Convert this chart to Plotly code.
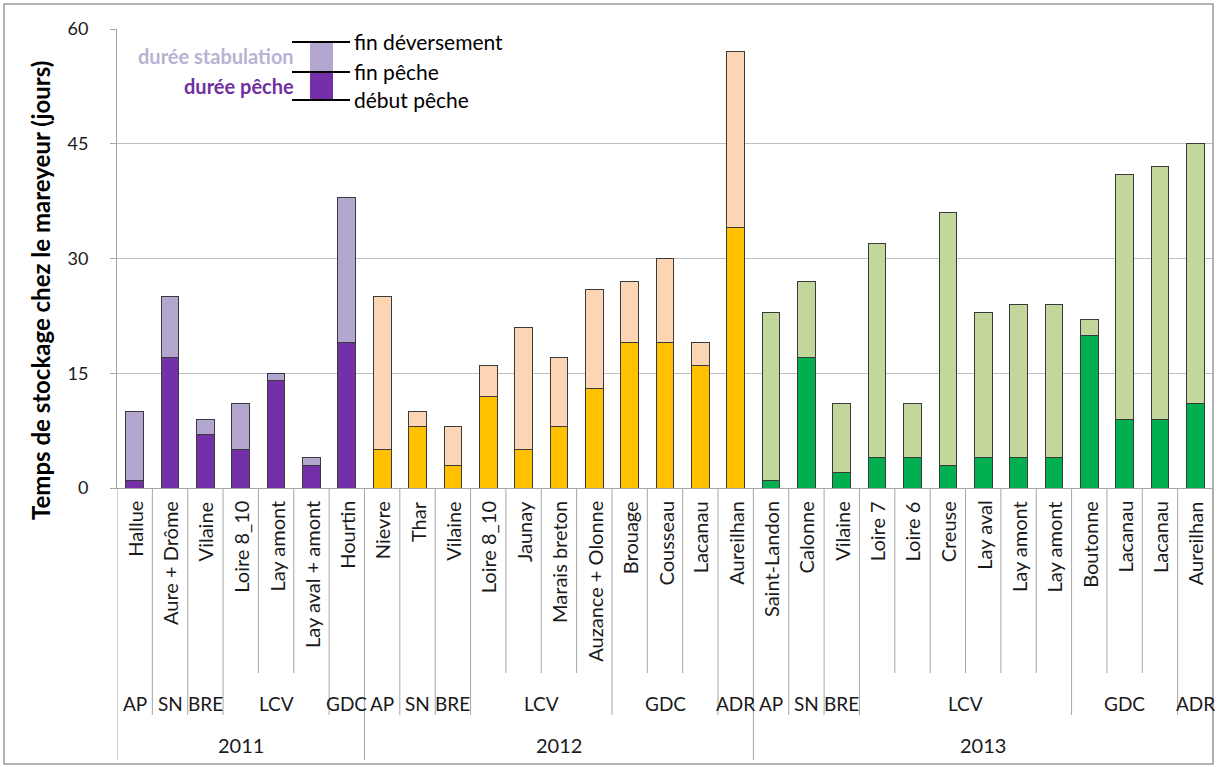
import plotly.graph_objects as go

# ---------------- data ----------------
noms = ["Hallue", "Aure + Drôme", "Vilaine", "Loire 8_10", "Lay amont", "Lay aval + amont", "Hourtin",
        "Nievre", "Thar", "Vilaine", "Loire 8_10", "Jaunay", "Marais breton", "Auzance + Olonne",
        "Brouage", "Cousseau", "Lacanau", "Aureilhan",
        "Saint-Landon", "Calonne", "Vilaine", "Loire 7", "Loire 6", "Creuse", "Lay aval", "Lay amont",
        "Lay amont", "Boutonne", "Lacanau", "Lacanau", "Aureilhan"]
filieres = ["AP", "SN", "BRE", "LCV", "LCV", "LCV", "GDC",
            "AP", "SN", "BRE", "LCV", "LCV", "LCV", "LCV", "GDC", "GDC", "GDC", "ADR",
            "AP", "SN", "BRE", "LCV", "LCV", "LCV", "LCV", "LCV", "LCV", "GDC", "GDC", "GDC", "ADR"]
annees = ["2011"] * 7 + ["2012"] * 11 + ["2013"] * 13
fin_peche = [1, 17, 7, 5, 14, 3, 19,
             5, 8, 3, 12, 5, 8, 13, 19, 19, 16, 34,
             1, 17, 2, 4, 4, 3, 4, 4, 4, 20, 9, 9, 11]
fin_deversement = [10, 25, 9, 11, 15, 4, 38,
                   25, 10, 8, 16, 21, 17, 26, 27, 30, 19, 57,
                   23, 27, 11, 32, 11, 36, 23, 24, 24, 22, 41, 42, 45]

couleur_peche = {"2011": "#7330A8", "2012": "#FFC000", "2013": "#00B050"}
couleur_stab = {"2011": "#B3A6CF", "2012": "#FCD5B5", "2013": "#C3D69B"}

# ---------------- geometry helpers ----------------
W, H = 1218, 767
L, R, T, B = 117, 1213, 29, 488


def px(x):
    return (x - L) / (R - L)


def py(y):
    return (B - y) / (B - T)


n = len(noms)
xs = list(range(n))
stab = [d - p for d, p in zip(fin_deversement, fin_peche)]

fig = go.Figure()
fig.add_trace(go.Bar(
    x=xs, y=fin_peche, width=0.5,
    marker=dict(color=[couleur_peche[a] for a in annees], line=dict(color="#3A3A3A", width=1)),
    hoverinfo="skip", showlegend=False))
fig.add_trace(go.Bar(
    x=xs, y=stab, width=0.5,
    marker=dict(color=[couleur_stab[a] for a in annees], line=dict(color="#3A3A3A", width=1)),
    hoverinfo="skip", showlegend=False))

FONT = "Lato"
TXT = "#1A1A1A"
shapes = []
annotations = []

# category separators (3 levels)
for i in range(n + 1):
    if i == 0 or i == n or annees[i] != annees[i - 1]:
        ybot = 760
    elif filieres[i] != filieres[i - 1]:
        ybot = 715
    else:
        ybot = 673
    shapes.append(dict(type="line", xref="x", yref="paper", x0=i - 0.5, x1=i - 0.5,
                       y0=0, y1=py(ybot), line=dict(color="#A6A6A6", width=1)))

# level 1 labels
for i, nom in enumerate(noms):
    annotations.append(dict(xref="x", yref="paper", x=i, y=py(499), text=nom, textangle=-90,
                            showarrow=False, xanchor="center", yanchor="top",
                            font=dict(family=FONT, size=20, color=TXT)))

# level 2 labels (groups)
start = 0
for i in range(1, n + 1):
    if i == n or filieres[i] != filieres[start] or annees[i] != annees[start]:
        annotations.append(dict(xref="x", yref="paper", x=(start + i - 1) / 2, y=py(703),
                                text=filieres[start], showarrow=False, xanchor="center", yanchor="middle",
                                font=dict(family=FONT, size=19, color=TXT)))
        start = i

# level 3 labels (years)
start = 0
for i in range(1, n + 1):
    if i == n or annees[i] != annees[start]:
        annotations.append(dict(xref="x", yref="paper", x=(start + i - 1) / 2, y=py(745),
                                text=annees[start], showarrow=False, xanchor="center", yanchor="middle",
                                font=dict(family=FONT, size=20, color=TXT)))
        start = i

# y axis title
annotations.append(dict(xref="paper", yref="paper", x=px(40), y=py(291),
                        text="<b>Temps de stockage chez le mareyeur (jours)</b>", textangle=-90,
                        showarrow=False, xanchor="center", yanchor="middle",
                        font=dict(family=FONT, size=24, color="#000000")))

# legend graphic
shapes += [
    dict(type="rect", xref="paper", yref="paper", x0=px(310), x1=px(333), y0=py(72), y1=py(42),
         fillcolor="#B3A6CF", line=dict(width=0)),
    dict(type="rect", xref="paper", yref="paper", x0=px(310), x1=px(333), y0=py(100), y1=py(72),
         fillcolor="#7330A8", line=dict(width=0)),
]
for yy in (42, 72, 100):
    shapes.append(dict(type="line", xref="paper", yref="paper", x0=px(292), x1=px(350), y0=py(yy), y1=py(yy),
                       line=dict(color="#000000", width=2)))
for txt, yy in (("fin déversement", 41), ("fin pêche", 71), ("début pêche", 100)):
    annotations.append(dict(xref="paper", yref="paper", x=px(352), y=py(yy), text=txt, showarrow=False,
                            xanchor="left", yanchor="middle", font=dict(family=FONT, size=21, color="#000000")))
annotations.append(dict(xref="paper", yref="paper", x=px(296), y=py(56), text="<b>durée stabulation</b>",
                        showarrow=False, xanchor="right", yanchor="middle",
                        font=dict(family=FONT, size=20, color="#B9B2D4")))
annotations.append(dict(xref="paper", yref="paper", x=px(296), y=py(86), text="<b>durée pêche</b>",
                        showarrow=False, xanchor="right", yanchor="middle",
                        font=dict(family=FONT, size=20, color="#7030A0")))

# outer chart border
shapes.append(dict(type="rect", xref="paper", yref="paper", x0=px(4), x1=px(1213), y0=py(764), y1=py(4),
                   line=dict(color="#9A9A9A", width=1.5), fillcolor="rgba(0,0,0,0)"))

fig.update_layout(
    width=W, height=H,
    margin=dict(l=L, r=W - R, t=T, b=H - B),
    barmode="stack",
    paper_bgcolor="white", plot_bgcolor="white",
    font=dict(family=FONT, size=17, color=TXT),
    xaxis=dict(range=[-0.5, n - 0.5], showticklabels=False, showgrid=False, zeroline=False,
               showline=True, linecolor="#A6A6A6", linewidth=1, ticks=""),
    yaxis=dict(range=[0, 60], tickvals=[0, 15, 30, 45, 60], showgrid=True, gridcolor="#BFBFBF",
               zeroline=False, showline=True, linecolor="#A6A6A6", linewidth=1,
               ticks="outside", ticklen=6, tickcolor="#A6A6A6", ticklabelstandoff=18,
               tickfont=dict(family=FONT, size=18, color=TXT)),
    shapes=shapes, annotations=annotations,
)

fig.write_html("out.html", config={"displayModeBar": False},
               post_script="document.body.style.margin='0';document.body.style.overflow='hidden';")
